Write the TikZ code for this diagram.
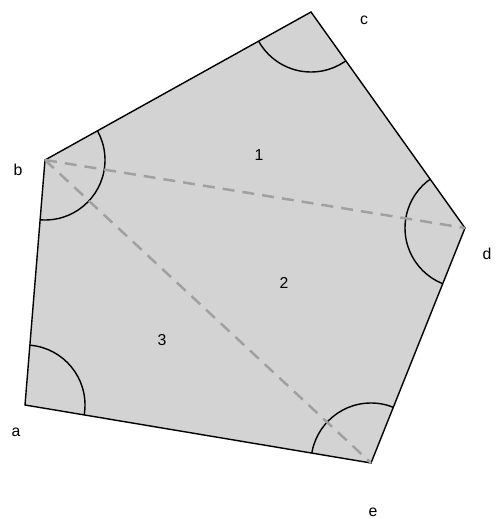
\documentclass[tikz,border=0pt]{standalone}
\usepackage{fontspec}
\setmainfont{Liberation Sans}
\usepackage{tikz}
\usetikzlibrary{positioning, calc}

\definecolor{facegray}{RGB}{211,211,211}
\definecolor{diaggray}{RGB}{160,160,160}

\begin{document}
\begin{tikzpicture}[
  x=0.02cm, y=-0.02cm,
  face/.style={fill=facegray, draw=black, line width=0.8pt, line join=miter},
  diag/.style={draw=diaggray, line width=1.4pt, dash pattern=on 0.24cm off 0.16cm},
  anglearc/.style={draw=black, line width=0.8pt},
  lab/.style={font=\fontsize{9}{10}\selectfont, inner sep=0pt}
]
\useasboundingbox (0,0) rectangle (495,519);
\coordinate (a) at (25,405);
\coordinate (b) at (45,160);
\coordinate (c) at (311,12);
\coordinate (d) at (465,228);
\coordinate (e) at (371,463);

\filldraw[face] (a) -- (b) -- (c) -- (d) -- (e) -- cycle;

\begin{scope}
  \clip (a) -- (b) -- (c) -- (d) -- (e) -- cycle;
  \foreach \v in {a,b,c,d,e}
    \draw[anglearc] (\v) circle[radius=60];
\end{scope}

\draw[diag] (b) -- (d);
\draw[diag] (b) -- (e);

\node[lab] (la) at (16,432) {a};
\node[lab] (lb) at (18,170) {b};
\node[lab] (lc) at (364,20) {c};
\node[lab] (ld) at (487,254) {d};
\node[lab] (le) at (373,512) {e};

\node[lab] (n1) at (259,155) {1};
\node[lab] (n2) at (284,283) {2};
\node[lab] (n3) at (162,340) {3};
\end{tikzpicture}
\end{document}
